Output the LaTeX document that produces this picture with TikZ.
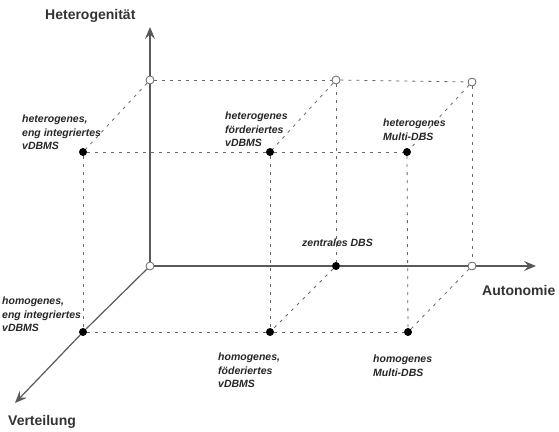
\documentclass[tikz,border=0pt]{standalone}
\usepackage{fontspec}
\setmainfont{Liberation Sans}
\usetikzlibrary{arrows.meta}

\begin{document}
\begin{tikzpicture}[x=1pt,y=-1pt,
    achse/.style={draw=black!65, line width=1.2pt},
    achspfeil/.style={achse, -{Stealth[length=12pt,width=10pt,inset=4.5pt]}},
    hilfs/.style={draw=black!60, line width=0.8pt, dash pattern=on 3pt off 5pt},
    voll/.style={circle, fill=black, inner sep=0pt, minimum size=8pt},
    leer/.style={circle, draw=black!60, fill=white, line width=0.8pt, inner sep=0pt, minimum size=8pt},
    lbl/.style={anchor=north west, inner sep=0pt, align=left, text=black!85,
        font=\fontsize{10.5}{13.8}\selectfont\bfseries\itshape},
    achslbl/.style={anchor=base west, inner sep=0pt, text=black!80,
        font=\fontsize{14}{17}\selectfont\bfseries}]
  \useasboundingbox (0,0) rectangle (559,431);

  % Punkte
  \node[leer] (O)  at (150,266) {};
  \node[leer] (hT) at (150,80) {};
  \node[leer] (aT) at (336,80) {};
  \node[leer] (mT) at (472,82) {};
  \node[voll] (eH) at (83,152) {};
  \node[voll] (fH) at (270,152) {};
  \node[voll] (mH) at (407,152) {};
  \node[voll] (zD) at (336,266) {};
  \node[leer] (mA) at (472,266) {};
  \node[voll] (eV) at (83,332) {};
  \node[voll] (fV) at (270,332) {};
  \node[voll] (mV) at (408,332) {};

  \coordinate (hEnd) at (150,27);
  \coordinate (aEnd) at (536,266);
  \coordinate (vEnd) at (15,403);

  % Achsen
  \draw[achse] (O) -- (hT);
  \draw[achspfeil] (hT) -- (hEnd);
  \draw[achse] (O) -- (zD);
  \draw[achse] (zD) -- (mA);
  \draw[achspfeil] (mA) -- (aEnd);
  \draw[achse] (O) -- (eV);
  \draw[achspfeil] (eV) -- (vEnd);

  % Hilfslinien
  \draw[hilfs] (hT) -- (aT);
  \draw[hilfs] (aT) -- (mT);
  \draw[hilfs] (eH) -- (fH);
  \draw[hilfs] (fH) -- (mH);
  \draw[hilfs] (eV) -- (fV);
  \draw[hilfs] (fV) -- (mV);
  \draw[hilfs] (hT) -- (eH);
  \draw[hilfs] (aT) -- (fH);
  \draw[hilfs] (mT) -- (mH);
  \draw[hilfs] (zD) -- (fV);
  \draw[hilfs] (mA) -- (mV);
  \draw[hilfs] (eH) -- (eV);
  \draw[hilfs] (fH) -- (fV);
  \draw[hilfs] (mH) -- (mV);
  \draw[hilfs] (aT) -- (zD);
  \draw[hilfs] (mT) -- (mA);

  % Beschriftung
  \node[achslbl] (lH) at (45,19.5) {Heterogenität};
  \node[achslbl] (lA) at (482,295) {Autonomie};
  \node[achslbl] (lV) at (8,425) {Verteilung};

  \node[lbl] (tEH) at (22,114.5) {heterogenes,\\eng integriertes\\vDBMS};
  \node[lbl] (tFH) at (225,111.5) {heterogenes\\förderiertes\\vDBMS};
  \node[lbl] (tMH) at (383,118.5) {heterogenes\\Multi-DBS};
  \node[lbl] (tZD) at (302,238.5) {zentrales DBS};
  \node[lbl] (tEV) at (2,296.5) {homogenes,\\eng integriertes\\vDBMS};
  \node[lbl] (tFV) at (218,352.5) {homogenes,\\föderiertes\\vDBMS};
  \node[lbl] (tMV) at (373,354.5) {homogenes\\Multi-DBS};
\end{tikzpicture}
\end{document}
